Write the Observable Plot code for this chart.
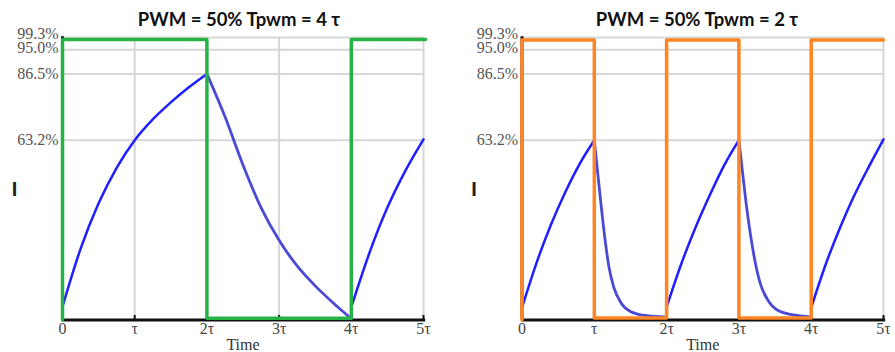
<!DOCTYPE html>
<html><head><meta charset="utf-8">
<script src="https://cdn.jsdelivr.net/npm/d3@7"></script>
<script src="https://cdn.jsdelivr.net/npm/@observablehq/plot@0.6"></script>
<style>
body{margin:0;background:#fff;width:895px;height:352px;overflow:hidden;position:relative}
.panel{position:absolute;top:0}
.title{position:absolute;top:8px;font:bold 18.5px Lato, sans-serif;color:#111;white-space:nowrap;transform:translateX(-50%)}
</style></head><body>
<div id="left" class="panel" style="left:0"></div>
<div id="right" class="panel" style="left:447px"></div>
<div class="title" style="left:239px">PWM = 50% Tpwm = 4 τ</div>
<div class="title" style="left:697px">PWM = 50% Tpwm = 2 τ</div>
<script>
// tick values and labels
const xTicks = [0, 1, 2, 3, 4, 5];
const xTickLabels = ["0", "τ", "2τ", "3τ", "4τ", "5τ"];
const yTicks = [63.2, 86.5, 95.0, 99.3];

// Left panel (Tpwm = 4τ): current I (%) vs time (τ)
const leftRiseAT = [0, 0.25, 0.5, 0.75, 1.0, 1.25, 1.5, 1.75, 2.0];
const leftRiseAV = [4.7, 25, 41, 53.5, 63.2, 70.5, 76.5, 81.8, 86.5];
const leftFallT = [2.0, 2.25, 2.5, 2.75, 3.0, 3.25, 3.5, 3.75, 4.0];
const leftFallV = [86.5, 71.5, 54.5, 39.5, 28, 19, 12, 6, 0.5];
const leftRiseBT = [4.0, 4.25, 4.5, 4.75, 5.0];
const leftRiseBV = [4.5, 23.5, 39.5, 52.5, 63.5];
const leftPwmT = [0, 0, 2, 2, 4, 4, 5.03];
const leftPwmV = [0, 98.6, 98.6, 0.6, 0.6, 98.6, 98.6];

// Right panel (Tpwm = 2τ)
const rightRiseAT = [0, 0.2, 0.4, 0.6, 0.8, 1.0];
const rightRiseAV = [4.3, 20, 33.5, 45, 55, 63.2];
const rightFallAT = [1.0, 1.05, 1.1, 1.15, 1.2, 1.27, 1.37, 1.5, 1.7, 2.0];
const rightFallAV = [63.2, 51, 39, 28, 19, 11.5, 6, 3, 1.6, 1.0];
const rightRiseBT = [2.0, 2.2, 2.4, 2.6, 2.8, 3.0];
const rightRiseBV = [4.5, 19.5, 32.5, 44, 54.5, 63.2];
const rightFallBT = [3.0, 3.05, 3.1, 3.16, 3.22, 3.3, 3.4, 3.53, 3.75, 4.0];
const rightFallBV = [63.2, 52, 41, 30, 21, 12.5, 7, 3.5, 1.8, 1.1];
const rightRiseCT = [4.0, 4.2, 4.4, 4.6, 4.8, 5.0];
const rightRiseCV = [4.3, 19.5, 32.5, 44, 54, 63.5];
const rightPwmT = [0, 0, 1, 1, 2, 2, 3, 3, 4, 4, 5.0];
const rightPwmV = [0, 98.4, 98.4, 0.7, 0.7, 98.4, 98.4, 0.7, 0.7, 98.4, 98.4];

const seg = (T, V) => T.map((t, i) => ({t, v: V[i]}));
const pct = d => d.toFixed(1) + "%";

function panel({rises, falls, pwm, pwmColor, width, ml, mr}) {
  return Plot.plot({
    width, height: 352,
    marginTop: 35, marginBottom: 32.5, marginLeft: ml, marginRight: mr,
    x: {domain: [0, 5]},
    y: {domain: [0, 100]},
    style: {fontFamily: "'Liberation Serif', serif", fontSize: "16px", color: "#555", background: "transparent", overflow: "visible"},
    marks: [
      Plot.ruleX(xTicks.slice(1), {y1: 0, y2: 99.3, stroke: "#d6d6d6", strokeWidth: 2}),
      Plot.ruleY(yTicks, {x1: 0, x2: 5, stroke: "#d6d6d6", strokeWidth: 2}),
      Plot.ruleX([0], {y1: 0, y2: 99.6, stroke: "#111", strokeWidth: 3}),
      Plot.ruleY([0], {x1: 0, x2: 5.03, stroke: "#111", strokeWidth: 3}),
      Plot.ruleX(xTicks.slice(1), {y1: 0, y2: 1.6, stroke: "#111", strokeWidth: 2}),
      Plot.axisX({ticks: xTicks, tickFormat: (d, i) => xTickLabels[i], tickSize: 0, tickPadding: 3, label: null, fill: "#444"}),
      Plot.axisY({ticks: yTicks.slice(0, 2), tickFormat: pct, tickSize: 0, tickPadding: 4, label: null, fill: "#555"}),
      Plot.axisY({ticks: yTicks.slice(2, 3), tickFormat: pct, tickSize: 0, tickPadding: 4, label: null, fill: "#555", dy: -2}),
      Plot.axisY({ticks: yTicks.slice(3), tickFormat: pct, tickSize: 0, tickPadding: 4, label: null, fill: "#555", dy: -3.5}),
      Plot.text(["Time"], {frameAnchor: "bottom", text: d => d, lineAnchor: "top", dy: 18.5, fill: "#333"}),
      Plot.text(["I"], {x: 0, y: 46, dx: -48, text: d => d, fontFamily: "'Liberation Sans', sans-serif", fontWeight: "bold", fontSize: 20, fill: "#222"}),
      ...rises.map(s => Plot.line(s, {x: "t", y: "v", stroke: "#1e1eff", strokeWidth: 2.5, curve: "monotone-x"})),
      ...falls.map(s => Plot.line(s, {x: "t", y: "v", stroke: "#4a4ad6", strokeWidth: 2.8, curve: "monotone-x"})),
      Plot.line(pwm, {x: "t", y: "v", stroke: pwmColor, strokeWidth: 3.5})
    ]
  });
}

document.getElementById("left").append(panel({
  rises: [seg(leftRiseAT, leftRiseAV), seg(leftRiseBT, leftRiseBV)],
  falls: [seg(leftFallT, leftFallV)],
  pwm: seg(leftPwmT, leftPwmV), pwmColor: "#27b245",
  width: 447, ml: 62, mr: 24
}));
document.getElementById("right").append(panel({
  rises: [seg(rightRiseAT, rightRiseAV), seg(rightRiseBT, rightRiseBV), seg(rightRiseCT, rightRiseCV)],
  falls: [seg(rightFallAT, rightFallAV), seg(rightFallBT, rightFallBV)],
  pwm: seg(rightPwmT, rightPwmV), pwmColor: "#ff8424",
  width: 448, ml: 74.5, mr: 12
}));
</script>
</body></html>
